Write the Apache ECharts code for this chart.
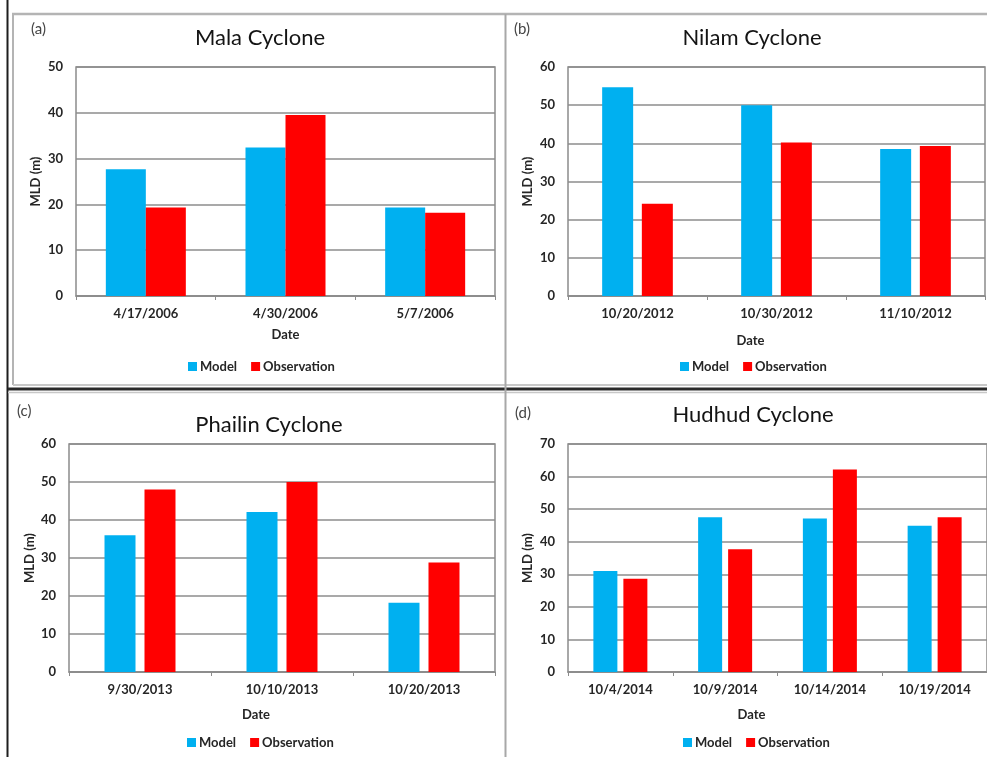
<!DOCTYPE html>
<html><head><meta charset="utf-8">
<script src="https://cdn.jsdelivr.net/npm/echarts@6/dist/echarts.min.js"></script>
<style>html,body{margin:0;padding:0;background:#fff}#c{width:987px;height:757px}</style>
</head><body><div id="c"></div>
<script>
// ---- data ----
const seriesNames = ['Model', 'Observation'];
const panelTitles = ['Mala Cyclone', 'Nilam Cyclone', 'Phailin Cyclone', 'Hudhud Cyclone'];
const panelTags = ['(a)', '(b)', '(c)', '(d)'];
const malaDates = ['4/17/2006', '4/30/2006', '5/7/2006'];
const malaModel = [27.7, 32.4, 19.3];
const malaObs = [19.3, 39.5, 18.2];
const nilamDates = ['10/20/2012', '10/30/2012', '11/10/2012'];
const nilamModel = [54.7, 50.0, 38.5];
const nilamObs = [24.2, 40.2, 39.3];
const phailinDates = ['9/30/2013', '10/10/2013', '10/20/2013'];
const phailinModel = [36.0, 42.1, 18.2];
const phailinObs = [48.0, 50.0, 28.8];
const hudhudDates = ['10/4/2014', '10/9/2014', '10/14/2014', '10/19/2014'];
const hudhudModel = [31.0, 47.5, 47.1, 44.9];
const hudhudObs = [28.6, 37.7, 62.2, 47.5];
const yMax = [50, 60, 60, 70];
const yInterval = 10;
const xAxisName = 'Date';
const yAxisName = 'MLD (m)';

// ---- layout / style ----
const FONT = 'Lato, "Open Sans", sans-serif';
const panels = [
  { cats: malaDates, m: malaModel, o: malaObs,
    grid: { left: 76, top: 67, width: 419, height: 229 }, barW: 40, barGap: '0%',
    title: [260, 27], tag: [31, 22], legend: [188, 360], dateShift: 0, dateGap: 32, nameGap: 34 },
  { cats: nilamDates, m: nilamModel, o: nilamObs,
    grid: { left: 568, top: 67, width: 417, height: 229 }, barW: 31, barGap: '28%',
    title: [752, 27], tag: [514, 22], legend: [680, 360], dateShift: 26, dateGap: 38, nameGap: 34 },
  { cats: phailinDates, m: phailinModel, o: phailinObs,
    grid: { left: 69, top: 444, width: 426, height: 228 }, barW: 31, barGap: '29%',
    title: [269, 414], tag: [17, 404], legend: [187, 736], dateShift: 26, dateGap: 36, nameGap: 33 },
  { cats: hudhudDates, m: hudhudModel, o: hudhudObs,
    grid: { left: 568, top: 444, width: 421, height: 228 }, barW: 24, barGap: '25%',
    title: [753, 404], tag: [515, 406], legend: [683, 736], dateShift: 26, dateGap: 36, nameGap: 34 }
];

const gridLineColor = '#8c8c8c';
const option = {
  backgroundColor: '#fff',
  animation: false,
  textStyle: { fontFamily: FONT },
  title: [], grid: [], xAxis: [], yAxis: [], series: [], legend: [],
  graphic: []
};

panels.forEach((p, i) => {
  option.title.push({
    text: panelTitles[i], left: p.title[0], top: p.title[1], textAlign: 'center', padding: 0,
    textStyle: { fontFamily: FONT, fontSize: 22, fontWeight: 'normal', color: '#141414' }
  });
  option.grid.push(Object.assign({ show: true, borderColor: gridLineColor, borderWidth: 1.5, backgroundColor: 'transparent' }, p.grid));
  option.xAxis.push({
    type: 'category', gridIndex: i, data: p.cats,
    name: xAxisName, nameLocation: 'middle', nameGap: p.dateGap,
    nameTextStyle: { fontFamily: FONT, fontSize: 13, fontWeight: 'bold', color: '#262626', padding: [0, p.dateShift * 2, 0, 0] },
    axisLine: { lineStyle: { color: gridLineColor, width: 1.5 } },
    axisTick: { show: true, length: 4, inside: false, lineStyle: { color: gridLineColor } },
    axisLabel: { fontFamily: FONT, fontSize: 13, fontWeight: 'bold', color: '#262626', margin: 11, interval: 0 }
  });
  option.yAxis.push({
    type: 'value', gridIndex: i, min: 0, max: yMax[i], interval: yInterval,
    name: yAxisName, nameLocation: 'middle', nameGap: p.nameGap, nameRotate: 90,
    nameTextStyle: { fontFamily: FONT, fontSize: 13, fontWeight: 'bold', color: '#262626' },
    axisLine: { show: false }, axisTick: { show: false },
    splitLine: { lineStyle: { color: gridLineColor, width: 1.5 } },
    axisLabel: { fontFamily: FONT, fontSize: 13, fontWeight: 'bold', color: '#262626', margin: 13 }
  });
  option.series.push({
    name: seriesNames[0], type: 'bar', xAxisIndex: i, yAxisIndex: i, data: p.m,
    barWidth: p.barW, barGap: p.barGap, itemStyle: { color: '#00B0F0' }
  });
  option.series.push({
    name: seriesNames[1], type: 'bar', xAxisIndex: i, yAxisIndex: i, data: p.o,
    barWidth: p.barW, barGap: p.barGap, itemStyle: { color: '#FF0000' }
  });
  option.legend.push({
    data: seriesNames, left: p.legend[0], top: p.legend[1], padding: 0,
    icon: 'rect', itemWidth: 9, itemHeight: 9, itemGap: 14,
    textStyle: { fontFamily: FONT, fontSize: 13, fontWeight: 'bold', color: '#262626', padding: [0, 0, 0, -2] }
  });
  option.graphic.push({
    type: 'text', left: p.tag[0], top: p.tag[1],
    style: { text: panelTags[i], fontFamily: FONT, fontSize: 15, fill: '#444' }
  });
});

// panel frames
option.graphic.push(
  { type: 'line', shape: { x1: 7.5, y1: 0, x2: 7.5, y2: 757 }, style: { stroke: '#1e1e1e', lineWidth: 2 } },
  { type: 'line', shape: { x1: 12, y1: 14, x2: 987, y2: 14 }, style: { stroke: '#b4b4b4', lineWidth: 2.5 } },
  { type: 'line', shape: { x1: 13, y1: 14, x2: 13, y2: 385 }, style: { stroke: '#b4b4b4', lineWidth: 2 } },
  { type: 'line', shape: { x1: 13, y1: 385, x2: 987, y2: 385 }, style: { stroke: '#c8c8c8', lineWidth: 2 } },
  { type: 'line', shape: { x1: 8, y1: 389, x2: 987, y2: 389 }, style: { stroke: '#2a2a2a', lineWidth: 3 } },
  { type: 'line', shape: { x1: 8, y1: 392.5, x2: 987, y2: 392.5 }, style: { stroke: '#c8c8c8', lineWidth: 1.5 } },
  { type: 'line', shape: { x1: 505.5, y1: 14, x2: 505.5, y2: 757 }, style: { stroke: '#a8a8a8', lineWidth: 2 } }
);

const chart = echarts.init(document.getElementById('c'), null, { renderer: 'canvas' });
chart.setOption(option);
</script>
</body></html>
